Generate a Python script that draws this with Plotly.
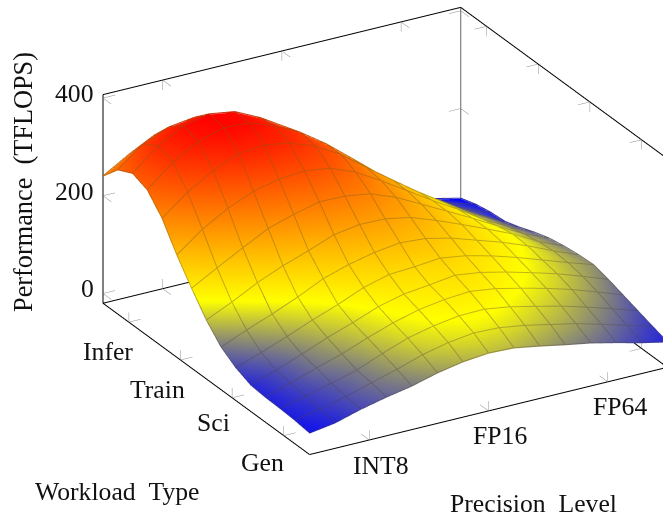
import plotly.graph_objects as go

precision_pos = [0.5, 0.714, 0.929, 1.143, 1.357, 1.571, 1.786, 2.0, 2.214, 2.429, 2.643, 2.857, 3.071, 3.286, 3.5]
workload_pos = [0.5, 0.786, 1.071, 1.357, 1.643, 1.929, 2.214, 2.5, 2.786, 3.071, 3.357, 3.643, 3.929, 4.214, 4.5]
row_00 = [23, 31, 46, 58, 68, 82, 92, 97, 95, 86, 76, 67, 55, 42, 31]
row_01 = [27, 37, 50, 65, 80, 97, 109, 116, 114, 106, 95, 84, 70, 55, 40]
row_02 = [29, 41, 55, 69, 90, 109, 121, 129, 130, 122, 110, 98, 83, 67, 50]
row_03 = [30, 46, 64, 80, 100, 118, 132, 140, 144, 137, 125, 112, 97, 79, 60]
row_04 = [33, 50, 70, 91, 109, 129, 142, 148, 155, 148, 136, 122, 107, 89, 70]
row_05 = [46, 64, 84, 105, 124, 146, 160, 163, 168, 160, 147, 131, 113, 95, 78]
row_06 = [66, 88, 108, 130, 155, 171, 183, 190, 186, 174, 157, 140, 120, 97, 76]
row_07 = [99, 123, 150, 172, 190, 210, 218, 217, 207, 188, 167, 145, 122, 94, 72]
row_08 = [142, 171, 199, 226, 242, 255, 254, 246, 226, 199, 172, 145, 116, 88, 66]
row_09 = [188, 228, 258, 280, 292, 296, 289, 268, 238, 205, 172, 141, 108, 80, 56]
row_10 = [241, 282, 313, 335, 340, 331, 312, 282, 243, 205, 168, 134, 100, 72, 44]
row_11 = [277, 321, 350, 366, 363, 344, 318, 282, 240, 197, 157, 122, 88, 60, 34]
row_12 = [289, 332, 360, 372, 364, 339, 307, 268, 225, 182, 142, 107, 76, 50, 31]
row_13 = [274, 314, 336, 343, 335, 312, 280, 243, 203, 162, 124, 90, 62, 40, 25]
row_14 = [239, 270, 297, 305, 298, 276, 245, 208, 172, 135, 100, 70, 45, 27, 15]
performance = [row_00, row_01, row_02, row_03, row_04, row_05, row_06, row_07,
               row_08, row_09, row_10, row_11, row_12, row_13, row_14]

x_ticks = [1, 2, 3]
x_labels = ["INT8", "FP16", "FP64"]
y_ticks = [1, 2, 3, 4]
y_labels = ["Gen", "Sci", "Train", "Infer"]
y_label_dx = [-21, -19, -23, -21]
y_label_dy = [-27, -25, -30, -29]
z_ticks = [0, 200, 400]
x_frame = [0.5, 3.5]
y_frame = [0.5, 4.5]
z_frame = [-20, 407]
x_range = [0.495, 3.505]
y_range = [0.495, 4.505]
z_range = [-21, 408]

FONT = dict(family="Liberation Serif", size=25.7, color="#111111")
x0, x1 = x_frame
y0, y1 = y_frame
z0, z1 = z_frame
TX, TY, TZ = 0.1, 0.16, 20
CMIN, CMAX = 15, 372
LIFT = 1.5

fig = go.Figure()
fig.add_trace(go.Surface(
    x=precision_pos, y=workload_pos, z=performance,
    colorscale=[[0, "#0000ff"], [0.31, "#ffff00"], [1, "#ff0000"]],
    cmin=CMIN, cmax=CMAX, showscale=False, hoverinfo="skip",
    lighting=dict(ambient=1, diffuse=0, specular=0, fresnel=0, roughness=1),
))

# mesh lines: the surface values again, tinted by a darker copy of the colour map
mesh_x, mesh_y, mesh_z, mesh_c = [], [], [], []
for j, yv in enumerate(workload_pos):
    for i, xv in enumerate(precision_pos):
        mesh_x.append(xv); mesh_y.append(yv); mesh_z.append(performance[j][i] + LIFT); mesh_c.append(performance[j][i])
    mesh_x.append(None); mesh_y.append(None); mesh_z.append(None); mesh_c.append(0)
for i, xv in enumerate(precision_pos):
    for j, yv in enumerate(workload_pos):
        mesh_x.append(xv); mesh_y.append(yv); mesh_z.append(performance[j][i] + LIFT); mesh_c.append(performance[j][i])
    mesh_x.append(None); mesh_y.append(None); mesh_z.append(None); mesh_c.append(0)
fig.add_trace(go.Scatter3d(
    x=mesh_x, y=mesh_y, z=mesh_z, mode="lines", hoverinfo="skip", showlegend=False,
    line=dict(width=2, color=mesh_c, cmin=CMIN, cmax=CMAX, showscale=False,
              colorscale=[[0, "#1818b8"], [0.31, "#c4ba14"], [1, "#c82808"]]),
))

def seg_trace(segs, color, width):
    xs, ys, zs = [], [], []
    for a, b in segs:
        xs += [a[0], b[0], None]
        ys += [a[1], b[1], None]
        zs += [a[2], b[2], None]
    return go.Scatter3d(x=xs, y=ys, z=zs, mode="lines", line=dict(color=color, width=width),
                        hoverinfo="skip", showlegend=False)

frame = [
    ((x0, y1, z0), (x1, y1, z0)), ((x0, y1, z1), (x1, y1, z1)),
    ((x0, y1, z0), (x0, y1, z1)),
    ((x0, y0, z0), (x0, y1, z0)), ((x0, y0, z0), (x1, y0, z0)),
    ((x1, y0, z0), (x1, y1, z0)), ((x1, y0, z1), (x1, y1, z1)),
]
fig.add_trace(seg_trace(frame, "#000000", 2))
fig.add_trace(seg_trace([((x1, y1, z0), (x1, y1, z1))], "#666666", 2))

ticks = []
for t in x_ticks:
    ticks += [((t, y0, z0), (t, y0, z0 + TZ)), ((t, y0, z0), (t, y0 + TY, z0)),
              ((t, y1, z1), (t, y1, z1 - TZ)), ((t, y1, z1), (t, y1 - TY, z1)),
              ((t, y1, z0), (t, y1, z0 + TZ)), ((t, y1, z0), (t, y1 - TY, z0))]
for t in y_ticks:
    ticks += [((x0, t, z0), (x0, t, z0 + TZ)), ((x0, t, z0), (x0 + TX, t, z0)),
              ((x1, t, z1), (x1, t, z1 - TZ)), ((x1, t, z1), (x1 - TX, t, z1)),
              ((x1, t, z0), (x1, t, z0 + TZ)), ((x1, t, z0), (x1 - TX, t, z0))]
for t in z_ticks:
    ticks += [((x0, y1, t), (x0 + TX, y1, t)), ((x0, y1, t), (x0, y1 - TY, t)),
              ((x1, y1, t), (x1 - TX, y1, t)), ((x1, y1, t), (x1, y1 - TY, t))]
fig.add_trace(seg_trace(ticks, "#909090", 1))

scene_notes = []
for t, s in zip(x_ticks, x_labels):
    scene_notes.append(dict(x=t, y=y0, z=z0, text=s, showarrow=False, font=FONT, xshift=12, yshift=-25))
for t, s, dx, dy in zip(y_ticks, y_labels, y_label_dx, y_label_dy):
    scene_notes.append(dict(x=x0, y=t, z=z0, text=s, showarrow=False, font=FONT, xshift=dx, yshift=dy))
for t in z_ticks:
    scene_notes.append(dict(x=x0, y=y1, z=t, text=str(t), showarrow=False, font=FONT,
                            xanchor="right", xshift=-7, yshift=4.5))

EYE_R = 2.5
dir_vec = (-0.453, -0.785, 0.4226)
center = (-0.3122, -0.1263, 0.0043)
eye = tuple(c + EYE_R * d for c, d in zip(center, dir_vec))

axis_common = dict(showgrid=False, zeroline=False, showline=False, showticklabels=False,
                   showspikes=False, showbackground=False, ticks="", title=dict(text=""))
title_pos = dict(xref="paper", yref="paper", showarrow=False, font=FONT, xanchor="center", yanchor="middle")
fig.update_layout(
    width=663, height=518, margin=dict(l=0, r=0, t=0, b=0),
    paper_bgcolor="white", showlegend=False,
    scene=dict(
        domain=dict(x=[0, 1], y=[0, 1]),
        xaxis=dict(range=x_range, tickvals=x_ticks, **axis_common),
        yaxis=dict(range=y_range, tickvals=y_ticks, **axis_common),
        zaxis=dict(range=z_range, tickvals=z_ticks, **axis_common),
        aspectmode="manual", aspectratio=dict(x=1.6, y=1.6, z=0.893),
        camera=dict(projection=dict(type="orthographic"),
                    up=dict(x=0, y=0, z=1),
                    center=dict(x=center[0], y=center[1], z=center[2]),
                    eye=dict(x=eye[0], y=eye[1], z=eye[2])),
        annotations=scene_notes,
    ),
    annotations=[
        dict(text="Workload&nbsp;&nbsp;Type", x=117 / 663, y=1 - 491 / 518, **title_pos),
        dict(text="Precision&nbsp;&nbsp;Level", x=533 / 663, y=1 - 503 / 518, **title_pos),
        dict(text="Performance&nbsp;&nbsp;(TFLOPS)", x=24 / 663, y=1 - 182 / 518, textangle=-90,
             xref="paper", yref="paper", showarrow=False, xanchor="center", yanchor="middle",
             font=dict(family="Liberation Serif", size=26.3, color="#111111")),
    ],
)
fig.write_html("out.html", config={"displayModeBar": False},
               post_script="document.body.style.margin='0';document.body.style.overflow='hidden';Plotly.Plots.resize(document.getElementById('{plot_id}'));")
